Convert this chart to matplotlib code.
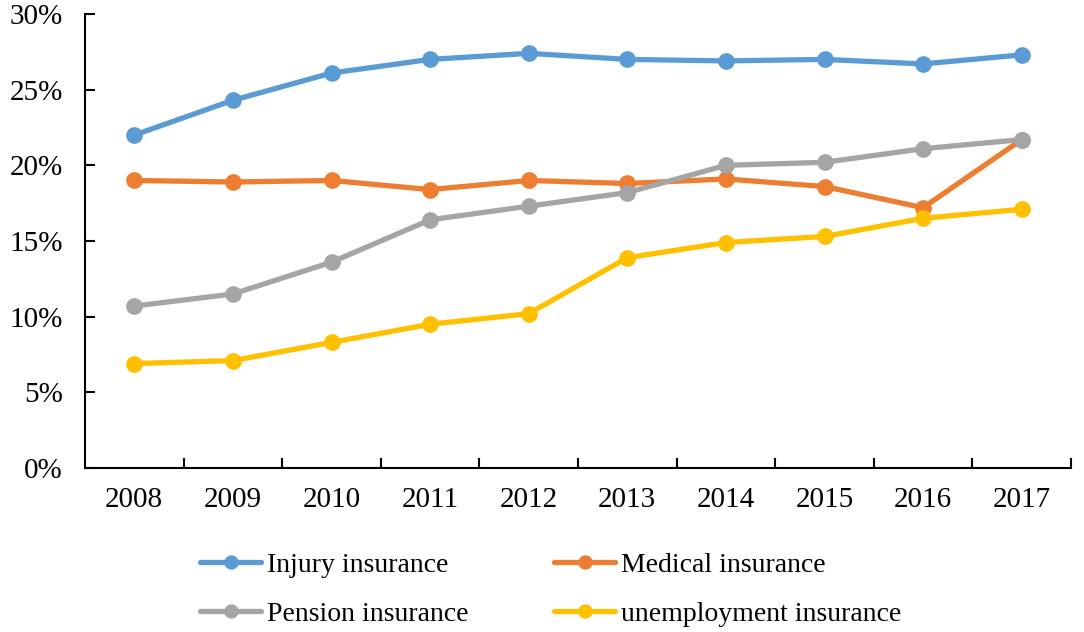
import numpy as np
import matplotlib.pyplot as plt
from matplotlib.ticker import FuncFormatter, FixedLocator

plt.rcParams['font.family'] = ['Liberation Serif', 'DejaVu Serif']

years = ['2008', '2009', '2010', '2011', '2012', '2013', '2014', '2015', '2016', '2017']
injury = [22.0, 24.3, 26.1, 27.0, 27.4, 27.0, 26.9, 27.0, 26.7, 27.3]
medical = [19.0, 18.9, 19.0, 18.4, 19.0, 18.8, 19.1, 18.6, 17.2, 21.7]
pension = [10.7, 11.5, 13.6, 16.4, 17.3, 18.2, 20.0, 20.2, 21.1, 21.7]
unemployment = [6.9, 7.1, 8.3, 9.5, 10.2, 13.9, 14.9, 15.3, 16.5, 17.1]

series = [
    ("Injury insurance", injury, "#5B9BD5"),
    ("Medical insurance", medical, "#ED7D31"),
    ("Pension insurance", pension, "#A5A5A5"),
    ("unemployment insurance", unemployment, "#FFC000"),
]

fig = plt.figure(figsize=(10.84, 6.32), dpi=100)
ax = fig.add_axes([85 / 1084, 1 - 468 / 632, 986 / 1084, 454 / 632])

x = np.arange(len(years))
handles = []
for name, vals, col in series:
    h, = ax.plot(x, vals, color=col, lw=3.8, marker='o', markersize=11, label=name,
                 solid_capstyle='round')
    handles.append(h)

ax.set_xlim(-0.5, len(years) - 0.5)
ax.set_ylim(0, 30)
ax.set_yticks(np.arange(0, 31, 5))
ax.yaxis.set_major_formatter(FuncFormatter(lambda v, p: f"{v:.0f}%"))
ax.set_xticks(x)
ax.set_xticklabels(years)
ax.xaxis.set_minor_locator(FixedLocator(np.arange(0.5, len(years), 1)))
ax.tick_params(axis='x', which='major', length=0, pad=14, labelsize=21)
ax.tick_params(axis='x', which='minor', length=7, width=1.5, direction='in')
ax.tick_params(axis='y', length=7, width=1.5, direction='in', labelsize=21, pad=16)
for s in ['top', 'right']:
    ax.spines[s].set_visible(False)
for s in ['left', 'bottom']:
    ax.spines[s].set_linewidth(1.5)

# row-wise order: Injury / Medical, Pension / unemployment
order = [0, 2, 1, 3]
fig.legend([handles[i] for i in order], [series[i][0] for i in order],
           loc='lower left', bbox_to_anchor=(200 / 1084, 1 - 627 / 632), ncol=2,
           frameon=False, fontsize=20, handlelength=2.2, columnspacing=3.1,
           labelspacing=0.85, handletextpad=0.2, borderpad=0, borderaxespad=0,
           markerscale=0.85)

fig.savefig('out.png', dpi=100)
